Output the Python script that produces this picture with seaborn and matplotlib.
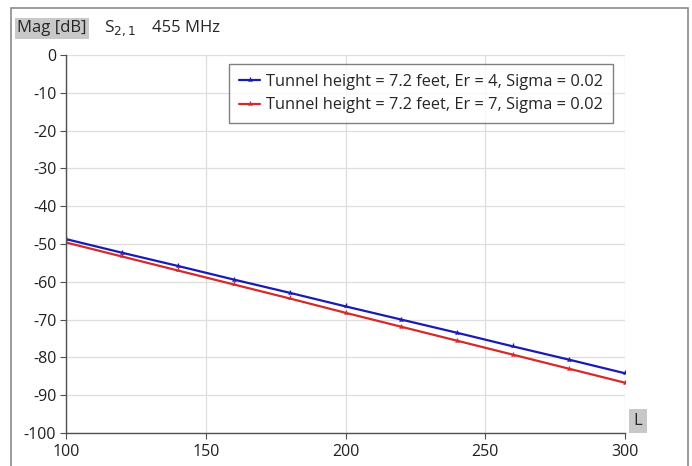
import matplotlib
matplotlib.use("Agg")
import matplotlib.pyplot as plt
import seaborn as sns
import pandas as pd
from matplotlib.patches import Rectangle

length = [100, 120, 140, 160, 180, 200, 220, 240, 260, 280, 300]
mag_er4 = [-48.7, -52.3, -55.8, -59.4, -62.9, -66.5, -70.0, -73.5, -77.1, -80.6, -84.2]
mag_er7 = [-49.6, -53.3, -57.0, -60.7, -64.4, -68.2, -71.9, -75.6, -79.3, -83.0, -86.7]
series_names = ["Tunnel height = 7.2 feet, Er = 4, Sigma = 0.02",
                "Tunnel height = 7.2 feet, Er = 7, Sigma = 0.02"]
x_ticks = [100, 150, 200, 250, 300]
y_ticks = [0, -10, -20, -30, -40, -50, -60, -70, -80, -90, -100]

df = pd.concat([
    pd.DataFrame({"L": length, "Mag": mag_er4, "series": series_names[0]}),
    pd.DataFrame({"L": length, "Mag": mag_er7, "series": series_names[1]}),
])

sns.set_theme(style="white")
plt.rcParams['font.family'] = ['Open Sans', 'DejaVu Sans']

fig = plt.figure(figsize=(6.92, 4.66), dpi=100)
ax = fig.add_axes([66/692, 1-433/466, (625-66)/692, (433-55)/466])

sns.lineplot(data=df, x="L", y="Mag", hue="series",
             palette=["#1a1ab4", "#d42a2a"], marker="2", markersize=4,
             markeredgewidth=1.0, linewidth=1.6, ax=ax)
for ln in ax.get_lines():
    ln.set_markeredgecolor(ln.get_color())

ax.set_xlim(100, 300)
ax.set_ylim(-100, 0)
ax.set_xticks(x_ticks)
ax.set_yticks(y_ticks)
ax.set_xticklabels([str(t) for t in x_ticks], fontsize=11.5)
ax.set_yticklabels([str(t) for t in y_ticks], fontsize=11.5)
ax.set_xlabel("")
ax.set_ylabel("")
ax.grid(True, color="#dedede", linewidth=0.9)
ax.set_axisbelow(True)
for s in ["top", "right"]:
    ax.spines[s].set_visible(False)
for s in ["left", "bottom"]:
    ax.spines[s].set_color("#505050")
    ax.spines[s].set_linewidth(1.0)
ax.tick_params(axis="both", which="both", length=4, width=0.8, color="#505050",
               direction="out", pad=3, colors="#202020", bottom=True, left=True)
ax.tick_params(axis="x", pad=4)

leg = ax.legend(loc="upper right", bbox_to_anchor=(0.9785, 0.976), fontsize=11.8,
                frameon=True, fancybox=False, handlelength=1.3, handletextpad=0.35,
                borderpad=0.6, borderaxespad=0.0, labelspacing=0.45)
leg.get_frame().set_edgecolor("#606060")
leg.get_frame().set_linewidth(1.0)
for h in leg.legend_handles:
    h.set_markeredgecolor(h.get_color())

# outer frame
fig.patches.append(Rectangle((11/692, -0.05), (688-11)/692, 1.05-8/466,
                             transform=fig.transFigure, fill=False,
                             edgecolor="#8a8a8a", linewidth=1.2))

fig.text(17/692, 1-28/466, "Mag [dB]", fontsize=12, va="center", ha="left",
         bbox=dict(boxstyle="square,pad=0.15", facecolor="#c8c8c8", edgecolor="none"))
fig.text(104/692, 1-28/466, r"S$_{2,1}$", fontsize=12.5, va="center", ha="left")
fig.text(152/692, 1-28/466, "455 MHz", fontsize=12, va="center", ha="left")
fig.text(638/692, 1-421/466, "L", fontsize=12, va="center", ha="center",
         bbox=dict(boxstyle="square,pad=0.25", facecolor="#c8c8c8", edgecolor="none"))

fig.savefig("out.png", dpi=100)
